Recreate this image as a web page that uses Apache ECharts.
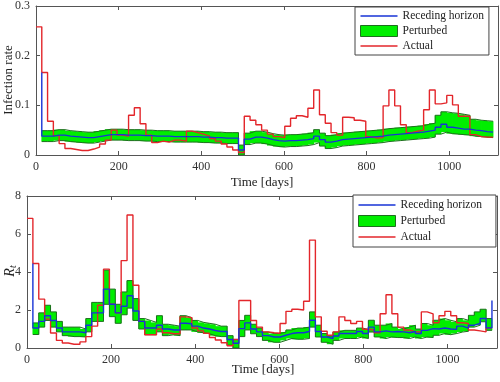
<!DOCTYPE html>
<html><head><meta charset="utf-8">
<script src="https://cdn.jsdelivr.net/npm/echarts@6/dist/echarts.min.js"></script>
<style>html,body{margin:0;padding:0;background:#fff}#c{width:500px;height:382px}</style>
</head><body><div id="c"></div>
<script>
// 14-day window edges (days)
const windowEdges = [0,14,28,42,56,70,84,98,112,126,140,154,168,182,196,210,224,238,252,266,280,294,308,322,336,350,364,378,392,406,420,434,448,462,476,490,504,518,532,546,560,574,588,602,616,630,644,658,672,686,700,714,728,742,756,770,784,798,812,826,840,854,868,882,896,910,924,938,952,966,980,994,1008,1022,1036,1050,1064,1078,1092,1106];
const xTickLabels = [0,200,400,600,800,1000];

// ---- Infection rate (windows 0..78) ----
const rateActual = [0.258,0.166,0.068,0.039,0.023,0.013,0.011,0.009,0.009,0.012,0.016,0.022,0.030,0.050,0.040,0.038,0.080,0.095,0.063,0.040,0.025,0.028,0.026,0.030,0.030,0.028,0.048,0.045,0.042,0.038,0.033,0.028,0.022,0.016,0.010,0.005,0.078,0.070,0.061,0.050,0.042,0.037,0.035,0.058,0.074,0.079,0.076,0.094,0.131,0.081,0.064,0.045,0.040,0.076,0.075,0.070,0.068,0.037,0.034,0.035,0.099,0.131,0.099,0.061,0.045,0.048,0.050,0.091,0.131,0.103,0.105,0.120,0.101,0.078,0.078,0.041,0.037,0.036,0.036];
// windows 1..78
const rateRHStart = 0.166;
const rateRH = [0.038,0.038,0.040,0.040,0.038,0.037,0.036,0.035,0.035,0.037,0.039,0.041,0.041,0.041,0.040,0.040,0.040,0.039,0.039,0.038,0.038,0.038,0.037,0.037,0.037,0.037,0.037,0.036,0.036,0.035,0.035,0.034,0.034,0.034,0.010,0.032,0.036,0.036,0.034,0.031,0.029,0.028,0.029,0.029,0.030,0.031,0.033,0.038,0.031,0.026,0.028,0.031,0.032,0.033,0.034,0.035,0.036,0.037,0.038,0.040,0.041,0.042,0.043,0.044,0.045,0.046,0.048,0.050,0.056,0.062,0.056,0.054,0.052,0.052,0.050,0.049,0.047,0.046];
const rateLower = [0.027,0.027,0.029,0.029,0.027,0.026,0.025,0.024,0.024,0.026,0.028,0.030,0.030,0.030,0.029,0.029,0.029,0.028,0.028,0.027,0.027,0.027,0.026,0.026,0.026,0.026,0.026,0.025,0.025,0.024,0.024,0.023,0.023,0.023,0.000,0.021,0.024,0.024,0.022,0.019,0.017,0.016,0.017,0.017,0.018,0.019,0.021,0.025,0.018,0.013,0.015,0.018,0.019,0.020,0.021,0.022,0.023,0.024,0.025,0.027,0.028,0.029,0.030,0.031,0.032,0.033,0.034,0.036,0.042,0.046,0.043,0.042,0.041,0.040,0.038,0.037,0.036,0.035];
const rateUpper = [0.049,0.049,0.051,0.051,0.049,0.048,0.047,0.046,0.046,0.048,0.050,0.052,0.052,0.052,0.051,0.051,0.051,0.050,0.050,0.049,0.049,0.049,0.048,0.048,0.048,0.048,0.048,0.047,0.047,0.046,0.046,0.045,0.045,0.045,0.020,0.044,0.048,0.048,0.046,0.043,0.041,0.040,0.041,0.041,0.042,0.043,0.045,0.051,0.044,0.039,0.041,0.044,0.045,0.046,0.047,0.048,0.049,0.050,0.051,0.053,0.054,0.055,0.056,0.057,0.058,0.059,0.062,0.064,0.080,0.087,0.085,0.084,0.082,0.080,0.072,0.070,0.069,0.068];

// ---- R_t (windows 0..78) ----
const rtActual = [6.82,4.45,2.57,1.52,0.79,0.40,0.26,0.20,0.20,0.32,0.60,1.15,2.25,4.15,2.30,1.85,4.60,7.00,3.30,1.40,0.70,0.70,1.00,0.80,0.75,0.75,1.64,1.60,1.05,0.90,0.78,0.55,0.42,0.28,0.12,0.45,2.50,2.50,1.45,1.10,0.85,0.80,0.78,1.29,1.93,2.04,2.00,2.46,5.68,1.64,0.88,0.67,0.85,1.64,1.45,1.29,1.40,0.99,0.95,0.80,1.80,2.80,1.80,1.10,0.95,0.85,0.85,1.90,1.80,1.33,1.70,1.93,1.70,1.33,1.29,0.95,0.90,0.85,1.06];
// windows 1..78
const rtRHStart = 4.45;
const rtRHEnd = 2.5;
const rtRH = [1.05,1.40,1.70,1.45,1.05,0.85,0.85,0.85,0.80,1.20,1.85,1.85,3.10,2.30,1.85,2.20,2.75,1.95,1.40,1.05,1.05,1.20,1.00,0.95,0.95,1.30,1.28,1.15,1.05,1.00,0.92,0.87,0.87,0.45,0.25,1.02,1.32,1.00,0.85,0.65,0.58,0.58,0.67,0.76,0.80,0.80,0.87,1.46,0.87,0.58,0.50,0.63,0.76,0.76,0.76,0.87,0.76,1.10,0.85,0.90,0.85,0.87,0.85,0.80,0.87,0.76,0.93,1.02,1.00,1.05,1.00,0.98,1.15,1.05,1.20,1.29,1.55,1.06];
const rtLower = [0.71,1.10,1.45,1.10,0.85,0.65,0.60,0.60,0.58,0.85,1.40,1.40,2.30,1.65,1.30,1.75,2.10,1.45,1.00,0.70,0.70,0.85,0.65,0.70,0.65,0.95,0.95,0.85,0.80,0.75,0.65,0.60,0.60,0.15,0.00,0.60,0.95,0.75,0.60,0.40,0.30,0.30,0.40,0.50,0.46,0.46,0.50,1.10,0.58,0.30,0.20,0.40,0.50,0.50,0.50,0.58,0.50,0.84,0.58,0.50,0.58,0.55,0.55,0.50,0.58,0.50,0.58,0.55,0.67,0.76,0.70,0.76,0.84,0.88,1.10,1.20,1.38,0.93];
const rtUpper = [1.32,1.85,2.25,1.90,1.40,1.10,1.10,1.10,1.00,1.55,2.40,2.40,4.10,3.10,2.30,2.95,3.55,2.60,1.55,1.45,1.35,1.70,1.25,1.20,1.15,1.70,1.60,1.45,1.35,1.30,1.25,1.15,1.15,0.65,0.45,1.45,1.72,1.25,1.05,0.84,0.76,0.76,0.84,0.95,1.05,1.05,1.10,1.90,1.20,0.76,0.63,0.84,0.93,0.93,0.93,1.05,0.98,1.46,1.20,1.20,1.29,1.10,1.00,1.10,1.20,1.00,1.29,1.20,1.46,1.55,1.46,1.38,1.55,1.46,1.72,1.90,2.04,1.55];

const FONT = 'Liberation Serif';
const RED = '#e3262b', BLUE = '#1733d6', GREEN = '#00ee00', DKGREEN = '#1f6e1f', FRAME = '#555';
const LINE_ICON = 'path://M0,0H40V1.5H0Z';

function steps(vals, firstWin) {
  const pts = vals.map((v, i) => [windowEdges[firstWin + i], v]);
  pts.push([windowEdges[firstWin + vals.length], vals[vals.length - 1]]);
  return pts;
}
function bandRows(lower, upper, firstWin) {
  return lower.map((v, i) => [windowEdges[firstWin + i], windowEdges[firstWin + i + 1], v, upper[i]]);
}

function xAx(grid, pos, show) {
  return {
    type: 'value', gridIndex: grid, position: pos, min: 0, max: 1118, interval: 200,
    axisLine: { show: true, onZero: false, lineStyle: { color: FRAME, width: 1 } },
    axisTick: { show: true, inside: true, length: 4, lineStyle: { color: FRAME } },
    axisLabel: { show: show, margin: 6, color: '#333', fontFamily: FONT, fontSize: 12, showMaxLabel: false,
      formatter: v => xTickLabels.indexOf(v) >= 0 ? String(v) : '' },
    splitLine: { show: false }
  };
}
function yAx(grid, pos, show, max, interval) {
  return {
    type: 'value', gridIndex: grid, position: pos, min: 0, max: max, interval: interval,
    axisLine: { show: true, onZero: false, lineStyle: { color: FRAME, width: 1 } },
    axisTick: { show: true, inside: true, length: 4, lineStyle: { color: FRAME } },
    axisLabel: { show: show, margin: 6, color: '#333', fontFamily: FONT, fontSize: 12 },
    splitLine: { show: false }
  };
}
function renderBand(params, api) {
  const p1 = api.coord([api.value(0), api.value(3)]);
  const p2 = api.coord([api.value(1), api.value(2)]);
  return { type: 'rect', shape: { x: p1[0] - 0.4, y: p1[1], width: p2[0] - p1[0] + 0.8, height: p2[1] - p1[1] },
    style: { fill: GREEN, stroke: null } };
}
function panelSeries(g, actual, rhPts, lower, upper) {
  const ax = { xAxisIndex: 2 * g, yAxisIndex: 2 * g };
  return [
    Object.assign({ type: 'custom', name: 'Perturbed', z: 2, clip: true, renderItem: renderBand,
      itemStyle: { color: GREEN }, encode: { x: [0, 1], y: [2, 3] }, data: bandRows(lower, upper, 1) }, ax),
    Object.assign({ type: 'line', name: 'lowerEdge' + g, step: 'end', symbol: 'none', z: 3,
      lineStyle: { color: DKGREEN, width: 1 }, itemStyle: { color: DKGREEN }, data: steps(lower, 1) }, ax),
    Object.assign({ type: 'line', name: 'upperEdge' + g, step: 'end', symbol: 'none', z: 3,
      lineStyle: { color: DKGREEN, width: 1 }, itemStyle: { color: DKGREEN }, data: steps(upper, 1) }, ax),
    Object.assign({ type: 'line', name: 'Actual', step: 'end', symbol: 'none', z: 4,
      lineStyle: { color: RED, width: 1.4 }, itemStyle: { color: RED }, data: steps(actual, 0) }, ax),
    Object.assign({ type: 'line', name: 'Receding horizon', step: 'end', symbol: 'none', z: 5,
      lineStyle: { color: BLUE, width: 1.4 }, itemStyle: { color: BLUE }, data: rhPts }, ax)
  ];
}

const rhTop = [[windowEdges[1], rateRHStart]].concat(steps(rateRH, 1));
const rhBot = [[windowEdges[1], rtRHStart]].concat(steps(rtRH, 1));
rhBot.push([windowEdges[windowEdges.length - 1], rtRHEnd]);

const legendData = [
  { name: 'Receding horizon', icon: LINE_ICON, itemStyle: { color: BLUE } },
  { name: 'Perturbed', icon: 'rect', itemStyle: { color: GREEN, borderColor: DKGREEN, borderWidth: 1 } },
  { name: 'Actual', icon: LINE_ICON, itemStyle: { color: RED } }
];
function legend(left, top, gap, pad) {
  return {
    left: left, top: top, orient: 'vertical', itemWidth: 37, itemHeight: 11, itemGap: gap,
    padding: pad, borderColor: '#444', borderWidth: 1, backgroundColor: '#fff', borderRadius: 0,
    textStyle: { fontFamily: FONT, fontSize: 11.5, color: '#222' }, data: legendData, selectedMode: false
  };
}

const chart = echarts.init(document.getElementById('c'), null, { renderer: 'canvas' });
chart.setOption({
  animation: false,
  backgroundColor: '#fff',
  grid: [
    { left: 36, top: 6, width: 462, height: 149 },
    { left: 27, top: 196, width: 470, height: 152 }
  ],
  xAxis: [xAx(0, 'bottom', true), xAx(0, 'top', false), xAx(1, 'bottom', true), xAx(1, 'top', false)],
  yAxis: [yAx(0, 'left', true, 0.3, 0.1), yAx(0, 'right', false, 0.3, 0.1), yAx(1, 'left', true, 8, 2), yAx(1, 'right', false, 8, 2)],
  legend: [legend(355, 7, 3, [3, 5, 3, 5]), legend(353, 195, 4, [4, 14, 4, 5])],
  series: panelSeries(0, rateActual, rhTop, rateLower, rateUpper)
    .concat(panelSeries(1, rtActual, rhBot, rtLower, rtUpper)),
  graphic: [
    { type: 'text', x: 9, y: 80, rotation: Math.PI / 2, style: { text: 'Infection rate', font: '13px "Liberation Serif"', fill: '#222', textAlign: 'center', textVerticalAlign: 'middle' } },
    { type: 'text', x: 10, y: 271, rotation: Math.PI / 2, style: { text: '{r|R}{t|t}', textAlign: 'center', textVerticalAlign: 'middle',
        rich: { r: { fontFamily: FONT, fontStyle: 'italic', fontSize: 14, fill: '#222', lineHeight: 16 }, t: { fontFamily: FONT, fontStyle: 'italic', fontSize: 10, fill: '#222', verticalAlign: 'bottom', lineHeight: 12, padding: [6, 0, 0, 0] } } } },
    { type: 'text', x: 262, y: 183, style: { text: 'Time [days]', font: '13px "Liberation Serif"', fill: '#222', textAlign: 'center', textVerticalAlign: 'middle' } },
    { type: 'text', x: 263, y: 370, style: { text: 'Time [days]', font: '13px "Liberation Serif"', fill: '#222', textAlign: 'center', textVerticalAlign: 'middle' } }
  ]
});
</script></body></html>
